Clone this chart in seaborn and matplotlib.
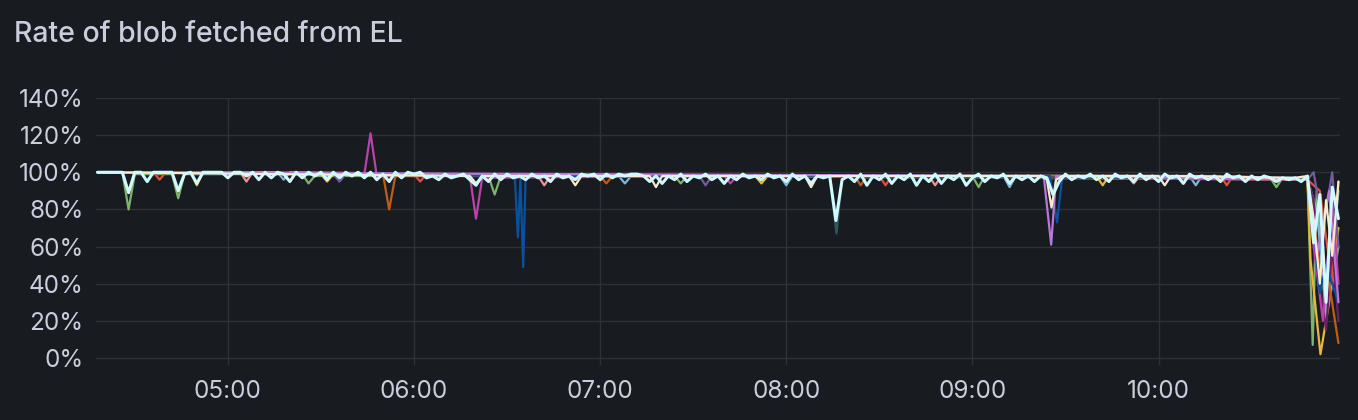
import numpy as np
import pandas as pd
import matplotlib
matplotlib.use("Agg")
import matplotlib.pyplot as plt
import matplotlib.dates as mdates
import seaborn as sns

# minutes after 04:00 for the dense white series (one point every 2 min)
grid_minutes = list(range(18, 419, 2))
white_vals = [
    100, 100, 100, 100, 100, 89, 100, 100, 95, 100, 100, 100, 100, 90, 99, 100, 94, 100, 100, 100, 100,
    97, 100, 100, 98, 100, 96, 100, 97, 100, 99, 95, 100, 97, 100, 98, 100, 96, 100, 97, 100, 98,
    100, 97, 100, 96, 99, 95, 100, 97, 100, 99, 100, 97, 98, 96, 99, 97, 98, 99, 96, 93,
    98, 95, 99, 96, 99, 97, 98, 96, 99, 97, 98, 95, 99, 97, 98, 96, 99, 98, 99, 96,
    99, 97, 99, 98, 99, 99, 98, 95, 98, 94, 98, 96, 99, 95, 98, 97, 99, 96, 98, 94,
    98, 96, 99, 97, 98, 96, 99, 97, 98, 95, 99, 96, 98, 94, 98, 97, 98, 74, 96, 98,
    95, 99, 93, 98, 96, 99, 94, 98, 96, 99, 93, 98, 95, 99, 94, 98, 96, 99, 93, 97,
    99, 95, 98, 97, 99, 94, 98, 96, 98, 95, 98, 97, 88, 95, 99, 96, 98, 97, 99, 96,
    98, 95, 99, 97, 98, 95, 99, 96, 98, 95, 99, 97, 98, 94, 99, 97, 98, 96, 98, 95,
    99, 97, 98, 95, 98, 96, 98, 97, 95, 97, 96, 97, 95, 98, 62, 88, 30, 92, 75,
]

# sparse series: (minutes after 04:00, percent)
cream_t = [18, 138, 140, 142, 170, 172, 174, 196, 198, 200, 246, 248, 250, 322, 324, 325.5, 327, 329, 360, 362, 364, 404, 408, 410, 412, 414, 416, 418]
cream_v = [100, 98, 94, 98, 98, 93, 98, 98, 92, 98, 98, 92, 98, 98, 96, 81, 96, 98, 98, 93, 98, 97, 98, 75, 40, 85, 55, 95]
green_t = [18, 26, 28, 30, 42, 44, 46, 84, 86, 88, 144, 146, 148, 204, 206, 208, 300, 302, 304, 396, 398, 400, 408, 409.7, 411, 414, 418]
green_v = [100, 100, 80, 99, 99, 86, 99, 99, 94, 98, 98, 88, 98, 98, 94, 98, 98, 92, 98, 97, 92, 97, 96, 7, 90, 20, 60]
purple_t = [18, 104, 106, 108, 138, 140, 142, 220, 222, 224, 408, 410, 413, 416, 418]
purple_v = [100, 99, 121, 98, 98, 75, 97, 98, 94, 98, 96, 60, 20, 85, 40]
orange_t = [18, 110, 112, 114, 180, 182, 184, 262, 264, 266, 408, 412, 415, 418]
orange_v = [100, 99, 80, 98, 98, 94, 98, 98, 93, 98, 96, 50, 40, 8]
blue_t = [18, 152.5, 153.5, 154.3, 155.2, 156, 325, 327.3, 329, 408, 410, 412, 414, 418]
blue_v = [100, 98, 65, 97, 49, 98, 98, 73, 98, 97, 70, 35, 50, 30]
plum_t = [18, 408, 410, 412, 414, 416, 418]
plum_v = [100, 97, 85, 40, 15, 60, 20]
slate_t = [18, 254, 256.2, 258, 408]
slate_v = [100, 98, 67, 97, 97]
lavender_t = [18, 323, 325.4, 327, 408, 411, 415, 418]
lavender_v = [100, 98, 61, 98, 96, 55, 90, 30]
yellow_t = [18, 48, 50, 52, 90, 92, 94, 230, 232, 234, 340, 342, 344, 408, 409, 412.2, 414, 418]
yellow_v = [100, 100, 93, 100, 99, 95, 99, 98, 94, 98, 98, 93, 98, 97, 53, 2, 20, 70]
red_t = [18, 36, 38, 40, 120, 122, 124, 270, 272, 274, 380, 382, 384, 408, 412, 416, 418]
red_v = [100, 100, 96, 100, 99, 95, 99, 98, 93, 98, 98, 93, 98, 96, 90, 40, 95]
pink_t = [18, 64, 66, 68, 160, 162, 164, 286, 288, 290, 350, 352, 354, 408]
pink_v = [100, 100, 95, 100, 98, 93, 98, 98, 93, 98, 98, 94, 98, 96]
lightblue_t = [18, 76, 78, 80, 186, 188, 190, 238, 240, 242, 310, 312, 314, 370, 372, 374, 408, 411, 414, 418]
lightblue_v = [100, 100, 96, 100, 98, 94, 98, 98, 93, 98, 98, 92, 98, 98, 93, 98, 96, 80, 25, 90]
violet_t = [18, 94, 96, 98, 212, 214, 216, 408, 410, 413, 416, 418]
violet_v = [100, 99, 95, 99, 98, 93, 98, 96, 100, 70, 100, 60]

series = [
    ("green", "#7EB26D", green_t, green_v),
    ("yellow", "#EAB839", yellow_t, yellow_v),
    ("red", "#E24D42", red_t, red_v),
    ("pink", "#F29191", pink_t, pink_v),
    ("lightblue", "#82B5D8", lightblue_t, lightblue_v),
    ("plum", "#6D1F62", plum_t, plum_v),
    ("violet", "#705DA0", violet_t, violet_v),
    ("purple", "#BA43A9", purple_t, purple_v),
    ("orange", "#C15C17", orange_t, orange_v),
    ("blue", "#0A50A1", blue_t, blue_v),
    ("slate", "#2F575E", slate_t, slate_v),
    ("lavender", "#B877D9", lavender_t, lavender_v),
    ("cream", "#FCEACA", cream_t, cream_v),
    ("white", "#CFFAFF", grid_minutes, white_vals),
]

base = pd.Timestamp("2024-01-01 04:00")
frames = []
for name, _, t, v in series:
    frames.append(pd.DataFrame({
        "time": base + pd.to_timedelta(t, unit="m"),
        "value": v,
        "series": name,
    }))
df = pd.concat(frames, ignore_index=True)
palette = {name: color for name, color, _, _ in series}

bg = "#181b1f"
text_col = "#ccccdc"
grid_col = "#2e3136"

sns.set_style("dark")
plt.rcParams["font.family"] = ["Inter", "DejaVu Sans"]

fig = plt.figure(figsize=(13.58, 4.2), dpi=100, facecolor=bg)
ax = fig.add_axes([96 / 1358, 55 / 420, (1340 - 96) / 1358, (365 - 98) / 420])
ax.set_facecolor(bg)

sns.lineplot(data=df[df.series != "white"], x="time", y="value", hue="series",
             hue_order=[s[0] for s in series[:-1]], palette=palette,
             estimator=None, legend=False, linewidth=1.6, ax=ax)
# the top series is drawn a bit heavier, as it covers the others
sns.lineplot(data=df[df.series == "white"], x="time", y="value",
             color=palette["white"], estimator=None, linewidth=2.2, ax=ax)

ax.set_xlim(base + pd.Timedelta(minutes=17.5), base + pd.Timedelta(minutes=418.5))
ax.set_ylim(-3.8, 140)
ax.set_yticks(range(0, 141, 20))
ax.set_yticklabels([f"{v}%" for v in range(0, 141, 20)])
ax.xaxis.set_major_locator(mdates.HourLocator())
ax.xaxis.set_major_formatter(mdates.DateFormatter("%H:%M"))
ax.set_xlabel("")
ax.set_ylabel("")
ax.grid(True, color=grid_col, linewidth=1)
for s in ax.spines.values():
    s.set_visible(False)
ax.tick_params(axis="both", length=0, colors=text_col, labelsize=17.5)
ax.tick_params(axis="y", pad=9)
ax.tick_params(axis="x", pad=11)

fig.text(14 / 1358, 1 - 35 / 420, "Rate of blob fetched from EL",
         color=text_col, fontsize=20.5, fontweight="medium", ha="left", va="center")

fig.savefig("out.png", dpi=100, facecolor=bg)
